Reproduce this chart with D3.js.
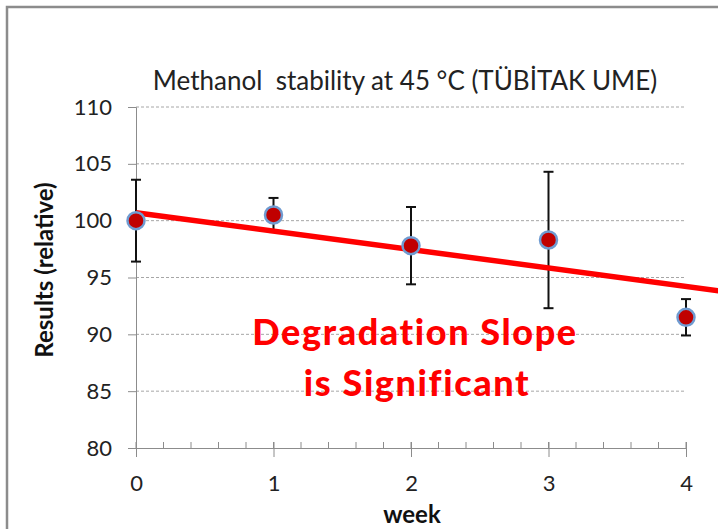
<!DOCTYPE html>
<html>
<head>
<meta charset="utf-8">
<script src="https://cdn.jsdelivr.net/npm/d3@7"></script>
<style>
  body { margin: 0; background: #fff; }
  svg { display: block; }
  text { font-family: Lato, "Open Sans", sans-serif; }
</style>
</head>
<body>
<div id="chart"></div>
<script>
// data
var weeks = [0, 1, 2, 3, 4]
var results = [100.0, 100.5, 97.8, 98.3, 91.5]
var errors = [3.6, 1.5, 3.4, 6.0, 1.6]
var yTicks = [80, 85, 90, 95, 100, 105, 110]
var xTicks = [0, 1, 2, 3, 4]
var trendIntercept = 100.7
var trendSlope = -1.62
var trendEnd = 4.24

var width = 718, height = 529
var margin = {top: 107, right: 32, bottom: 81, left: 136}
var w = width - margin.left - margin.right
var h = height - margin.top - margin.bottom

var svg = d3.select("#chart").append("svg")
  .attr("width", width)
  .attr("height", height)

// outer frame (cut off at right/bottom)
svg.append("rect")
  .attr("x", 7).attr("y", 7)
  .attr("width", 740).attr("height", 560)
  .attr("fill", "none")
  .attr("stroke", "#8c8c8c")
  .attr("stroke-width", 2.5)

var g = svg.append("g")
  .attr("transform", "translate(" + margin.left + "," + margin.top + ")")

var x = d3.scaleLinear().domain([0, 4]).range([0, w])
var y = d3.scaleLinear().domain([80, 110]).range([h, 0])

// gridlines
g.append("g").selectAll("line")
  .data(yTicks.filter(function(d) { return d > 80 }))
  .enter().append("line")
  .attr("x1", 0).attr("x2", w)
  .attr("y1", function(d) { return y(d) })
  .attr("y2", function(d) { return y(d) })
  .attr("stroke", "#a6a6a6")
  .attr("stroke-width", 1)
  .attr("stroke-dasharray", "3,2")

// y axis
var yAxis = d3.axisLeft(y).tickValues(yTicks).tickSize(8).tickPadding(16)
var gy = g.append("g").call(yAxis)
gy.select(".domain").attr("stroke", "#8c8c8c")
gy.selectAll(".tick line").attr("stroke", "#8c8c8c")
gy.selectAll(".tick text")
  .attr("fill", "#222")
  .style("font-size", "22px")

// x axis: minor ticks up, major ticks crossing
var minor = d3.range(0, 4.01, 0.2)
g.append("g").selectAll("line")
  .data(minor)
  .enter().append("line")
  .attr("x1", function(d) { return x(d) })
  .attr("x2", function(d) { return x(d) })
  .attr("y1", h - 6).attr("y2", h)
  .attr("stroke", "#8c8c8c")

var xAxis = d3.axisBottom(x).tickValues(xTicks).tickSize(9).tickPadding(18).tickFormat(d3.format("d"))
var gx = g.append("g").attr("transform", "translate(0," + h + ")").call(xAxis)
gx.select(".domain").attr("stroke", "#8c8c8c")
gx.selectAll(".tick line").attr("stroke", "#8c8c8c").attr("y1", -6)
gx.selectAll(".tick text")
  .attr("fill", "#222")
  .style("font-size", "22px")

// error bars
var eb = g.append("g").selectAll("g")
  .data(weeks)
  .enter().append("g")
eb.append("line")
  .attr("x1", function(d) { return x(d) })
  .attr("x2", function(d) { return x(d) })
  .attr("y1", function(d, i) { return y(results[i] - errors[i]) })
  .attr("y2", function(d, i) { return y(results[i] + errors[i]) })
  .attr("stroke", "#111").attr("stroke-width", 2)
eb.selectAll(".cap")
  .data(function(d, i) { return [[d, results[i] - errors[i]], [d, results[i] + errors[i]]] })
  .enter().append("line")
  .attr("x1", function(d) { return x(d[0]) - 5 })
  .attr("x2", function(d) { return x(d[0]) + 5 })
  .attr("y1", function(d) { return y(d[1]) })
  .attr("y2", function(d) { return y(d[1]) })
  .attr("stroke", "#111").attr("stroke-width", 2)

// trend line
g.append("line")
  .attr("x1", x(0)).attr("y1", y(trendIntercept))
  .attr("x2", x(trendEnd)).attr("y2", y(trendIntercept + trendSlope * trendEnd))
  .attr("stroke", "#ff0000")
  .attr("stroke-width", 5.5)

// points
g.append("g").selectAll("circle")
  .data(weeks)
  .enter().append("circle")
  .attr("cx", function(d) { return x(d) })
  .attr("cy", function(d, i) { return y(results[i]) })
  .attr("r", 8.5)
  .attr("fill", "#c00000")
  .attr("stroke", "#6f9bd1")
  .attr("stroke-width", 2.5)

// title
svg.append("text")
  .attr("x", 405).attr("y", 90)
  .attr("text-anchor", "middle")
  .style("font-size", "26px")
  .style("white-space", "pre")
  .attr("fill", "#222")
  .text("Methanol  stability at 45 °C (TÜBİTAK UME)")

// axis titles
svg.append("text")
  .attr("transform", "translate(53,270) rotate(-90)")
  .attr("text-anchor", "middle")
  .style("font-size", "24px")
  .style("font-weight", "bold")
  .attr("fill", "#111")
  .text("Results (relative)")

svg.append("text")
  .attr("x", 412).attr("y", 523)
  .attr("text-anchor", "middle")
  .style("font-size", "24px")
  .style("font-weight", "bold")
  .attr("fill", "#111")
  .text("week")

// annotation
var note = svg.append("text")
  .attr("text-anchor", "middle")
  .attr("fill", "#ff0000")
  .style("font-size", "36px")
  .style("font-weight", "900")
  .style("letter-spacing", "1.6px")
note.append("tspan").attr("x", 415).attr("y", 345).text("Degradation Slope")
note.append("tspan").attr("x", 417).attr("y", 396).text("is Significant")
</script>
</body>
</html>
